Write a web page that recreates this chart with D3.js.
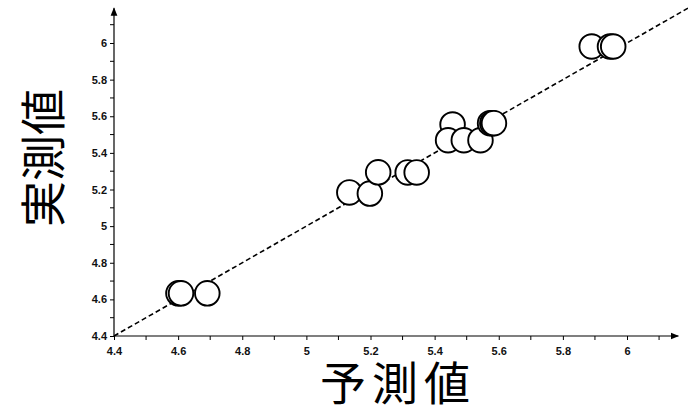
<!DOCTYPE html>
<html>
<head>
<meta charset="utf-8">
<script src="https://cdn.jsdelivr.net/npm/d3@7"></script>
<style>
  html, body { margin: 0; padding: 0; background: #fff; }
  svg { display: block; }
</style>
</head>
<body>
<svg id="chart" width="688" height="414"></svg>
<script>
// Predicted vs measured values
const predicted = [4.601, 4.609, 4.691, 5.134, 5.198, 5.224, 5.316, 5.344,
                   5.456, 5.442, 5.491, 5.543, 5.573, 5.580, 5.585, 5.890, 5.947, 5.957];
const measured  = [4.633, 4.633, 4.633, 5.184, 5.178, 5.294, 5.293, 5.293,
                   5.555, 5.469, 5.469, 5.469, 5.562, 5.562, 5.562, 5.981, 5.981, 5.981];
const xTicks = [4.4, 4.6, 4.8, 5, 5.2, 5.4, 5.6, 5.8, 6];
const yTicks = [4.4, 4.6, 4.8, 5, 5.2, 5.4, 5.6, 5.8, 6];
const minorTicks = [4.5, 4.7, 4.9, 5.1, 5.3, 5.5, 5.7, 5.9, 6.1];
const xLabel = "予測値";
const yLabel = "実測値";

const svg = d3.select("#chart");
const x = d3.scaleLinear().domain([4.4, 6]).range([114, 627]);
const y = d3.scaleLinear().domain([4.4, 6]).range([336, 43]);
const xEnd = 6.16, yEnd = 6.19;

const tickFont = "'Liberation Sans', Arial, sans-serif";

// x axis
const xAxis = d3.axisBottom(x).tickValues(xTicks).tickSize(4).tickSizeOuter(0)
  .tickFormat(d3.format("~g"));
const gx = svg.append("g").attr("transform", `translate(0,${y(4.4)})`).call(xAxis);
gx.select(".domain").remove();
gx.selectAll(".tick text").attr("dy", "1.05em");

// y axis
const yAxis = d3.axisLeft(y).tickValues(yTicks).tickSize(4).tickSizeOuter(0)
  .tickFormat(d3.format("~g"));
const gy = svg.append("g").attr("transform", `translate(${x(4.4)},0)`).call(yAxis);
gy.select(".domain").remove();

[gx, gy].forEach(g => {
  g.selectAll(".tick text")
    .attr("font-family", tickFont).attr("font-weight", "bold")
    .attr("font-size", 11).attr("fill", "#111");
  g.selectAll(".tick line").attr("stroke", "#000");
});

// minor ticks
svg.append("g").selectAll("line").data(minorTicks).join("line")
  .attr("x1", d => x(d)).attr("x2", d => x(d))
  .attr("y1", y(4.4)).attr("y2", y(4.4) + 4).attr("stroke", "#000");
svg.append("g").selectAll("line").data(minorTicks).join("line")
  .attr("y1", d => y(d)).attr("y2", d => y(d))
  .attr("x1", x(4.4)).attr("x2", x(4.4) - 4).attr("stroke", "#000");

// axis lines with arrowheads
svg.append("defs").append("marker")
  .attr("id", "arrow").attr("viewBox", "0 0 10 10").attr("refX", 9).attr("refY", 5)
  .attr("markerWidth", 7).attr("markerHeight", 7).attr("orient", "auto")
  .append("path").attr("d", "M0,1 L10,5 L0,9 Z").attr("fill", "#000");

svg.append("line")
  .attr("x1", x(4.4)).attr("y1", y(4.4)).attr("x2", x(xEnd)).attr("y2", y(4.4))
  .attr("stroke", "#000").attr("stroke-width", 1.2).attr("marker-end", "url(#arrow)");
svg.append("line")
  .attr("x1", x(4.4)).attr("y1", y(4.4)).attr("x2", x(4.4)).attr("y2", y(yEnd))
  .attr("stroke", "#000").attr("stroke-width", 1.2).attr("marker-end", "url(#arrow)");

// y = x reference line
svg.append("line")
  .attr("x1", x(4.4)).attr("y1", y(4.4)).attr("x2", x(6.2)).attr("y2", y(6.2))
  .attr("stroke", "#000").attr("stroke-width", 1.6).attr("stroke-dasharray", "5,3");

// data points
svg.append("g").selectAll("circle").data(predicted.map((p, i) => [p, measured[i]]))
  .join("circle")
  .attr("cx", d => x(d[0])).attr("cy", d => y(d[1])).attr("r", 12.3)
  .attr("fill", "#fff").attr("stroke", "#000").attr("stroke-width", 1.9);

// axis titles
const titleFont = "'Noto Sans CJK JP', sans-serif";
svg.append("text").attr("x", 398).attr("y", 400).attr("text-anchor", "middle")
  .attr("font-family", titleFont).attr("font-size", 46).attr("font-weight", 400)
  .attr("letter-spacing", 6).attr("fill", "#000")
  .text(xLabel);
svg.append("text").attr("transform", "translate(60,158) rotate(-90)")
  .attr("text-anchor", "middle")
  .attr("font-family", titleFont).attr("font-size", 46).attr("font-weight", 400)
  .attr("fill", "#000")
  .text(yLabel);
</script>
</body>
</html>
